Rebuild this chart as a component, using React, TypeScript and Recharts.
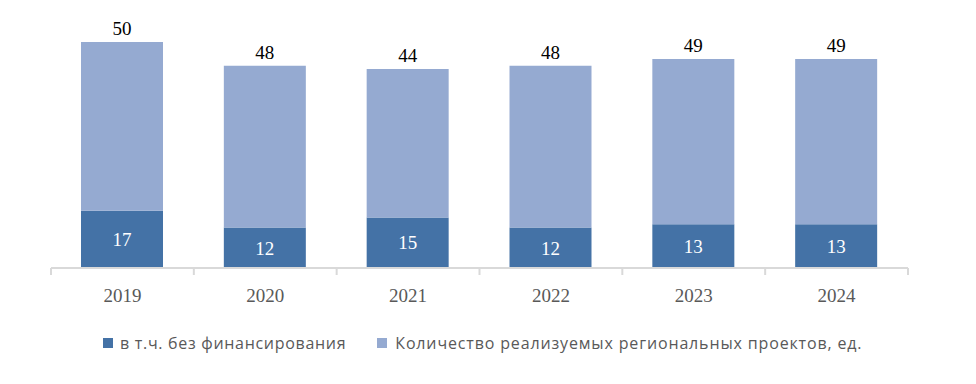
import { Bar, BarChart, LabelList, XAxis, YAxis } from "recharts";

const years = ["2019", "2020", "2021", "2022", "2023", "2024"];
const unfunded = [17, 12, 15, 12, 13, 13];
const projects = [50, 48, 44, 48, 49, 49];

const DARK = "#4472A6";
const LIGHT = "#95AAD1";

const chartData = years.map((year, i) => ({
  year,
  unfunded: unfunded[i],
  projects: projects[i],
}));

const LEFT = 51;
const RIGHT = 68;
const WIDTH = 976;
const STEP = (WIDTH - LEFT - RIGHT) / years.length;
const SERIF = "'Liberation Serif', serif";

function YearTick(props: any) {
  const { x, y, payload, index } = props;
  const half = STEP / 2;
  return (
    <g>
      <line x1={x - half} y1={y - 14} x2={x - half} y2={y - 7} stroke="#d9d9d9" strokeWidth={2} />
      {index === years.length - 1 && (
        <line x1={x + half} y1={y - 14} x2={x + half} y2={y - 7} stroke="#d9d9d9" strokeWidth={2} />
      )}
      <text x={x} y={y + 20} textAnchor="middle" fill="#595959" fontSize={19} fontFamily={SERIF}>
        {payload.value}
      </text>
    </g>
  );
}

export default function App() {
  return (
    <div style={{ position: "absolute", left: 0, top: 0, width: WIDTH, height: 384, background: "#fff" }}>
      <BarChart
        width={WIDTH}
        height={384}
        data={chartData}
        margin={{ top: 32, right: RIGHT, left: LEFT, bottom: 86 }}
        barSize={82}
      >
        <XAxis
          dataKey="year"
          axisLine={{ stroke: "#d9d9d9", strokeWidth: 2 }}
          tickLine={false}
          tick={<YearTick />}
          tickMargin={8}
          height={30}
        />
        <YAxis hide domain={[0, 70]} />
        <Bar dataKey="unfunded" stackId="a" fill={DARK} isAnimationActive={false}>
          <LabelList dataKey="unfunded" position="center" fill="#fff" fontSize={19} fontFamily={SERIF} />
        </Bar>
        <Bar dataKey="projects" stackId="a" fill={LIGHT} isAnimationActive={false}>
          <LabelList
            dataKey="projects"
            position="top"
            offset={7}
            fill="#000"
            fontSize={19}
            fontFamily={SERIF}
          />
        </Bar>
      </BarChart>
      <div
        style={{
          position: "absolute",
          top: 332,
          left: 103,
          display: "flex",
          fontFamily: "'Open Sans', sans-serif",
          fontSize: 16,
          color: "#595959",
          whiteSpace: "nowrap",
        }}
      >
        <span style={{ display: "flex", alignItems: "center", marginRight: 31, letterSpacing: 0.7 }}>
          <span style={{ width: 10, height: 10, background: DARK, marginRight: 7 }} />
          в т.ч. без финансирования
        </span>
        <span style={{ display: "flex", alignItems: "center", letterSpacing: 0.85 }}>
          <span style={{ width: 10, height: 10, background: LIGHT, marginRight: 8 }} />
          Количество реализуемых региональных проектов, ед.
        </span>
      </div>
    </div>
  );
}
